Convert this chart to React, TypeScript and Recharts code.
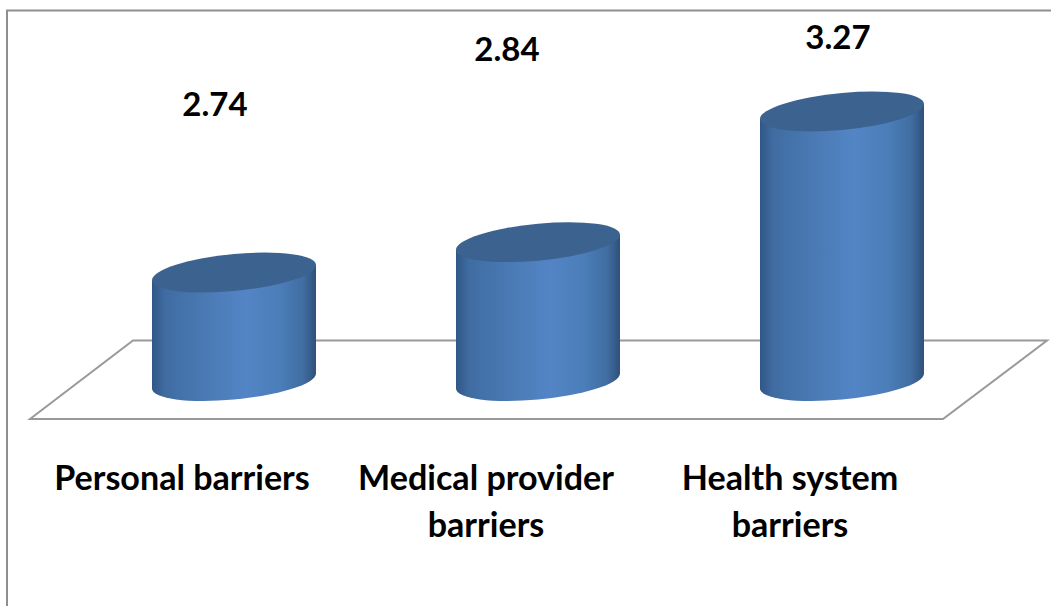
import React from "react";
import { BarChart, Bar, XAxis, YAxis, LabelList } from "recharts";

const categories = ["Personal barriers", "Medical provider barriers", "Health system barriers"];
const scores = [2.74, 2.84, 3.27];
const categoryLines = [["Personal barriers"], ["Medical provider", "barriers"], ["Health system", "barriers"]];

const rows = categories.map((name, i) => ({ name, score: scores[i] }));

const WIDTH = 1051;
const HEIGHT = 606;
const FONT = "Lato, Carlito, sans-serif";
const TICK_SIZE = 34.1;
const VALUE_SIZE = 33;

// Horizontal shift and baseline height of each value label, chosen per column.
const labelShiftX = [-19, -31, -4];
const labelBaseline = [116, 61, 49];

const SKEW = 7.5;
const RX = 82;
const RY = 18.5;

function Cylinder(props: any) {
  const { x, y, width, height } = props;
  const cx = x + width / 2;
  const slope = SKEW / RX;
  return (
    <g transform={`matrix(1 ${-slope} 0 1 ${cx} ${y})`}>
      <path
        d={`M ${-RX} 0 L ${-RX} ${height - 1} A ${RX} ${RY} 0 0 0 ${RX} ${height - 1} L ${RX} 0 Z`}
        fill="url(#cylinderSide)"
      />
      <ellipse cx={0} cy={0} rx={RX} ry={RY} fill="#3c628f" />
    </g>
  );
}

function CategoryTick(props: any) {
  const { x, y, index } = props;
  return (
    <text
      x={x - 52}
      y={y + 100}
      textAnchor="middle"
      fontFamily={FONT}
      fontWeight={700}
      fontSize={TICK_SIZE}
      fill="#000"
    >
      {categoryLines[index].map((line, i) => (
        <tspan key={line} x={x - 52} dy={i === 0 ? 0 : 47}>
          {line}
        </tspan>
      ))}
    </text>
  );
}

function ValueLabel(props: any) {
  const { x, width, value, index } = props;
  return (
    <text
      x={x + width / 2 + labelShiftX[index]}
      y={labelBaseline[index]}
      textAnchor="middle"
      fontFamily={FONT}
      fontWeight={700}
      fontSize={VALUE_SIZE}
      fill="#000"
    >
      {Number(value).toFixed(2)}
    </text>
  );
}

export default function App() {
  return (
    <div style={{ position: "absolute", left: 0, top: 0, width: WIDTH, height: HEIGHT, background: "#fff", overflow: "hidden" }}>
      {/* Outer frame and the chart floor sit behind the plot */}
      <svg width={WIDTH} height={HEIGHT} style={{ position: "absolute", left: 0, top: 0 }}>
        <path d={`M 7 ${HEIGHT} L 7 10.5 L ${WIDTH} 10.5`} fill="none" stroke="#8f8f8f" strokeWidth={2} />
        <polygon points="30,419 133,340.5 1047,340.5 943,419" fill="#fff" stroke="#999" strokeWidth={2} />
      </svg>
      <div style={{ position: "absolute", left: 0, top: 0 }}>
        <BarChart
          width={WIDTH}
          height={HEIGHT}
          data={rows}
          margin={{ top: 78, right: 57, bottom: 24, left: 82 }}
          barCategoryGap={140}
        >
          <defs>
            <linearGradient id="cylinderSide" x1="0" y1="0" x2="1" y2="0">
              <stop offset="0%" stopColor="#315785" />
              <stop offset="8%" stopColor="#3f6ca2" />
              <stop offset="35%" stopColor="#4b7bb5" />
              <stop offset="58%" stopColor="#5385c6" />
              <stop offset="78%" stopColor="#4b7db8" />
              <stop offset="92%" stopColor="#416ea3" />
              <stop offset="100%" stopColor="#2f5079" />
            </linearGradient>
          </defs>
          <XAxis
            dataKey="name"
            height={200}
            axisLine={false}
            tickLine={false}
            interval={0}
            tick={<CategoryTick />}
          />
          <YAxis hide domain={[2.38, 3.38]} />
          <Bar dataKey="score" barSize={164} shape={<Cylinder />} isAnimationActive={false}>
            <LabelList dataKey="score" content={<ValueLabel />} />
          </Bar>
        </BarChart>
      </div>
    </div>
  );
}
